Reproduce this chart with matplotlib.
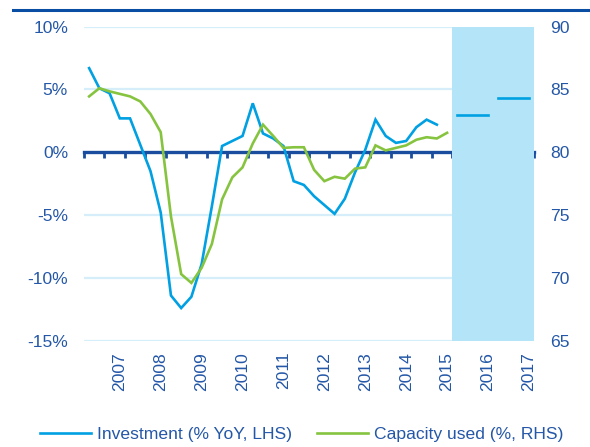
import numpy as np
import matplotlib.pyplot as plt
from matplotlib.lines import Line2D

plt.rcParams['font.family'] = ['Liberation Sans', 'DejaVu Sans']

# quarterly data, 2007Q1 onwards
investment = [6.7, 5.1, 4.7, 2.7, 2.7, 0.6, -1.5, -4.8,
              -11.4, -12.4, -11.5, -8.9, -4.3, 0.5, 0.9, 1.3,
              3.9, 1.5, 1.1, 0.5, -2.3, -2.6, -3.5, -4.2,
              -4.9, -3.7, -1.6, 0.2, 2.6, 1.3, 0.75, 0.9,
              2.0, 2.6, 2.2]
capacity = [84.45, 85.1, 84.85, 84.65, 84.45, 84.05, 83.05, 81.6,
            74.9, 70.3, 69.6, 70.8, 72.7, 76.25, 78.0, 78.8,
            80.7, 82.2, 81.3, 80.35, 80.4, 80.4, 78.6, 77.7,
            78.05, 77.9, 78.7, 78.8, 80.55, 80.15, 80.35, 80.55,
            81.0, 81.2, 81.1, 81.55]
# annual investment forecasts (shaded area)
fc_years = [2016, 2017]
fc_values = [3.0, 4.3]

years = list(range(2007, 2018))
first_year = years[0]

BLUE = '#00a0e2'
GREEN = '#86c440'
TEXT = '#2457a7'
DARK = '#1a4d9e'
SHADE = '#b4e4f7'
GRID = '#d5eef9'
FS = 12.6

fig = plt.figure(figsize=(5.9, 4.47), dpi=100)
ax = fig.add_axes([0.1424, 0.2378, 0.9051 - 0.1424, 0.9403 - 0.2378])
ax2 = ax.twinx()

n_q = 4 * len(years)
ax.set_xlim(-0.5, n_q - 0.5)
ax.set_ylim(-15, 10)
ax2.set_ylim(65, 90)

# grid (no line at zero, the axis line sits there)
ax.set_yticks([-15, -10, -5, 0, 5, 10])
ax.set_yticklabels(['-15%', '-10%', '-5%', '0%', '5%', '10%'])
for y in [-15, -10, -5, 5, 10]:
    ax.axhline(y, color=GRID, lw=1.6, zorder=0.5)

# forecast period shading
fc_start = 4 * (fc_years[0] - first_year) - 0.5
ax.axvspan(fc_start, n_q - 0.5, color=SHADE, lw=0, zorder=1)

qx = np.arange(len(investment))
ax.plot(qx, investment, color=BLUE, lw=1.9, zorder=3,
        solid_joinstyle='miter', label='Investment (% YoY, LHS)')
for yr, val in zip(fc_years, fc_values):
    q0 = 4 * (yr - first_year)
    ax.plot([q0, q0 + 3], [val, val], color=BLUE, lw=1.9, zorder=3)

ax2.plot(np.arange(len(capacity)), capacity, color=GREEN, lw=1.9,
         solid_joinstyle='miter', label='Capacity used (%, RHS)')

# zero line with half-year ticks
zero_pos = (0 - ax.get_ylim()[0]) / (ax.get_ylim()[1] - ax.get_ylim()[0])
zax = ax.secondary_xaxis(zero_pos)
zax.set_alignment('bottom')
zax.set_xticks(np.arange(-0.5, n_q, 2))
zax.set_xticklabels([])
zax.tick_params(direction='out', length=4.5, width=2, color=DARK)
zax.spines['top'].set_visible(False)
zax.spines['bottom'].set_visible(True)
zax.spines['bottom'].set_color(DARK)
zax.spines['bottom'].set_linewidth(2.4)

# year labels under the plot, on the Q4 of each year
ax.set_xticks([4 * (y - first_year) + 3 for y in years])
ax.set_xticklabels([str(y) for y in years], rotation=90)
ax.tick_params(axis='x', length=0, pad=8, labelsize=FS, labelcolor=TEXT)
ax.tick_params(axis='y', length=0, pad=11.5, labelsize=FS, labelcolor=TEXT)

ax2.set_yticks([65, 70, 75, 80, 85, 90])
ax2.tick_params(axis='y', length=0, pad=11.5, labelsize=FS, labelcolor=TEXT)

for a in (ax, ax2):
    for s in a.spines.values():
        s.set_visible(False)

# top rule
fig.add_artist(Line2D([13 / 590, 1.0], [1 - 10 / 447, 1 - 10 / 447],
                      color='#0a4ea3', lw=2.2))

h1, l1 = ax.get_legend_handles_labels()
h2, l2 = ax2.get_legend_handles_labels()
leg = fig.legend(h1 + h2, l1 + l2, loc='center left',
                 bbox_to_anchor=(40 / 590, 13 / 447), ncol=2, frameon=False,
                 fontsize=FS, handlelength=2.9, handletextpad=0.35,
                 columnspacing=1.45, borderpad=0, borderaxespad=0)
for t in leg.get_texts():
    t.set_color(TEXT)

fig.savefig('out.png', dpi=100)
